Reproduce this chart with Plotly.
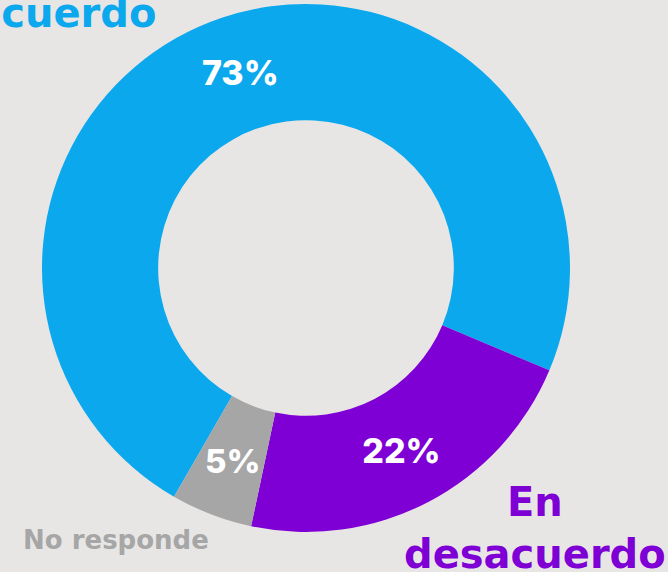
#Donut chart: opinion split (de acuerdo / en desacuerdo / no responde)

import math
import plotly.graph_objects as go

labels = ["De acuerdo", "En desacuerdo", "No responde"]
values = [73, 22, 5]
text_labels = ["73%", "22%", "5%"]
colors = ["#0BA8EE", "#7F00D4", "#A6A6A6"]

W, H = 668, 572
cx, cy, r = 306, 268, 264
hole = 0.56
rotation = 210
label_font = "DejaVu Sans"

fig = go.Figure()
fig.add_trace(go.Pie(
    labels=labels,
    values=values,
    text=text_labels,
    textinfo="text",
    # the small slice gets its label placed by hand below (mid ring, like the original)
    textposition=["inside", "inside", "none"],
    insidetextorientation="horizontal",
    sort=False,
    direction="clockwise",
    rotation=rotation,
    hole=hole,
    marker=dict(colors=colors, line=dict(width=0)),
    insidetextfont=dict(family="Inter", size=34, color="white", weight=800),
    domain=dict(x=[(cx - r) / W, (cx + r) / W], y=[1 - (cy + r) / H, 1 - (cy - r) / H]),
    showlegend=False,
    hoverinfo="label+percent",
))

# label of the small slice at the middle of the ring
total = sum(values)
before = sum(values[:2])
theta = math.radians(rotation + 360 * (before + values[2] / 2) / total)
rt = r * (1 + hole) / 2
px = cx + rt * math.sin(theta)
py = cy - rt * math.cos(theta)
fig.add_annotation(text=text_labels[2], x=px / W, y=1 - (py + 1) / H, xref="paper", yref="paper",
                   xanchor="center", yanchor="middle", showarrow=False,
                   font=dict(family="Inter", size=33, color="white", weight=800))

# outside labels
fig.add_annotation(text="De acuerdo", x=158 / W, y=1 - 13 / H, xref="paper", yref="paper",
                   xanchor="right", yanchor="middle", showarrow=False,
                   font=dict(family=label_font, size=40, color=colors[0], weight="bold"))
fig.add_annotation(text="En<br>desacuerdo", x=535 / W, y=1 - 528 / H, xref="paper", yref="paper",
                   xanchor="center", yanchor="middle", align="center", showarrow=False,
                   font=dict(family=label_font, size=40, color=colors[1], weight="bold"))
fig.add_annotation(text="No responde", x=116 / W, y=1 - 540 / H, xref="paper", yref="paper",
                   xanchor="center", yanchor="middle", showarrow=False,
                   font=dict(family=label_font, size=26, color=colors[2], weight="bold"))

fig.update_layout(width=W, height=H, margin=dict(l=0, r=0, t=0, b=0),
                  paper_bgcolor="#E8E6E5", plot_bgcolor="#E8E6E5")

fig.write_html("out.html", config={"displayModeBar": False},
               post_script="document.body.style.margin='0';document.body.style.background='#E8E6E5';")
